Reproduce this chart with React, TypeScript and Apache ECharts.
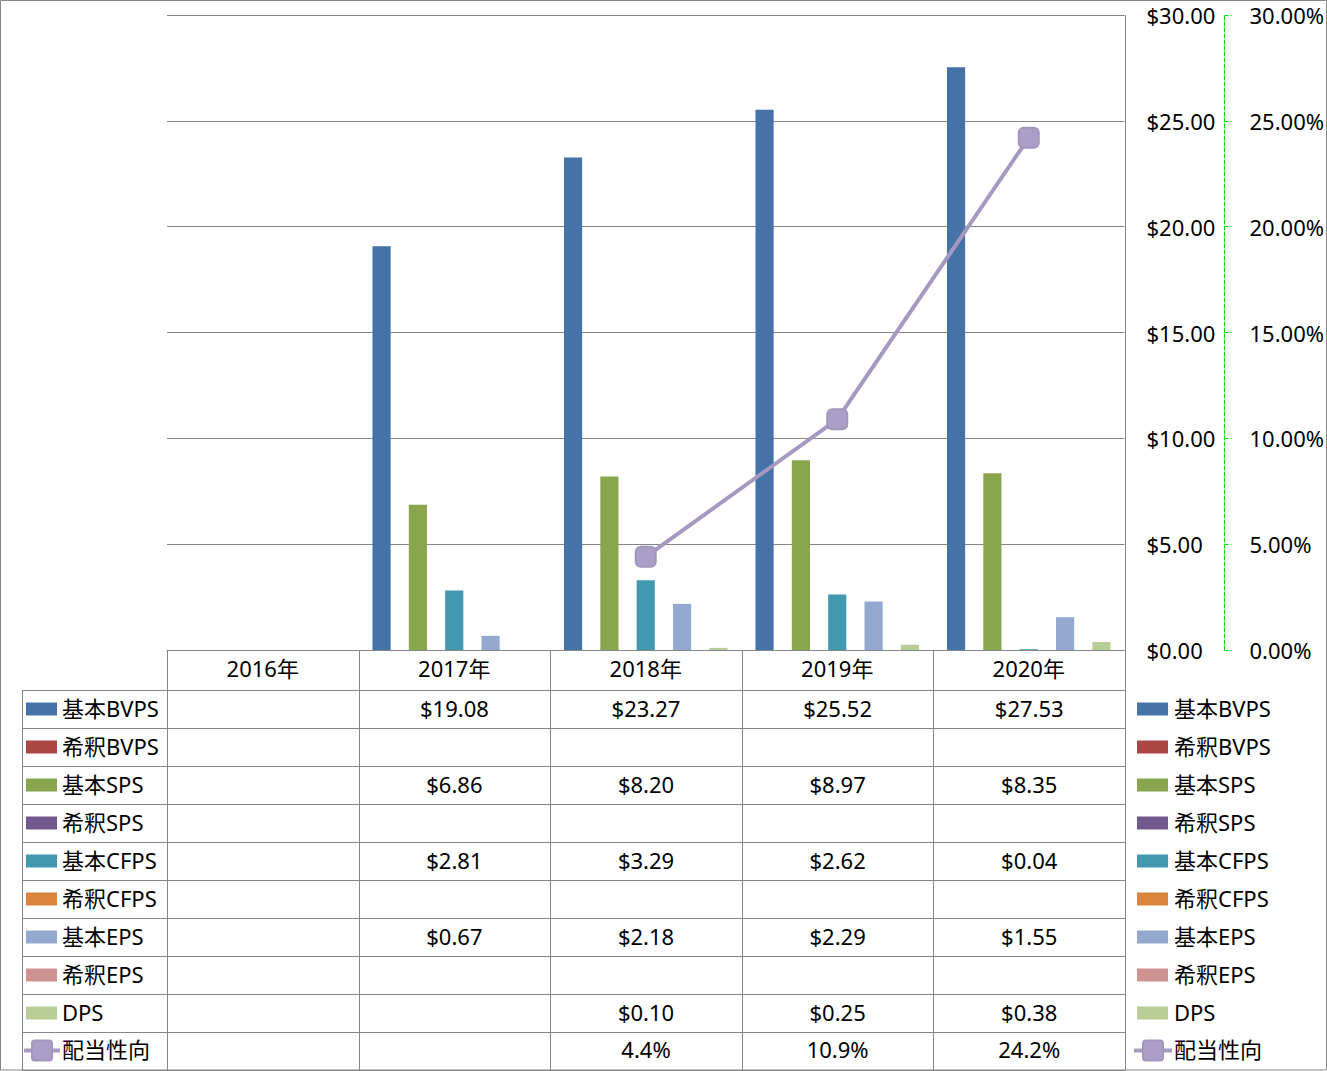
import React, { useEffect, useRef } from "react";
import * as echarts from "echarts";

const years = ["2016年", "2017年", "2018年", "2019年", "2020年"];
const basicBVPS = [null, 19.08, 23.27, 25.52, 27.53];
const dilutedBVPS = [null, null, null, null, null];
const basicSPS = [null, 6.86, 8.2, 8.97, 8.35];
const dilutedSPS = [null, null, null, null, null];
const basicCFPS = [null, 2.81, 3.29, 2.62, 0.04];
const dilutedCFPS = [null, null, null, null, null];
const basicEPS = [null, 0.67, 2.18, 2.29, 1.55];
const dilutedEPS = [null, null, null, null, null];
const dps = [null, null, 0.1, 0.25, 0.38];
const payoutRatio = [null, null, 4.4, 10.9, 24.2];

const barNames = ["基本BVPS", "希釈BVPS", "基本SPS", "希釈SPS", "基本CFPS", "希釈CFPS", "基本EPS", "希釈EPS", "DPS"];
const barData = [basicBVPS, dilutedBVPS, basicSPS, dilutedSPS, basicCFPS, dilutedCFPS, basicEPS, dilutedEPS, dps];
const barColors = ["#4572A7", "#AA4643", "#89A54E", "#71588F", "#4198AF", "#DB843D", "#93A9CF", "#D19392", "#B9CD96"];
const lineName = "配当性向";
const lineColor = "#A99BBD";

const FONT = '"Noto Sans", "Noto Sans CJK JP", sans-serif';
const FS = 22;
const GRID_COLOR = "#868686";

const W = 1327;
const H = 1071;
const GL = 167;
const GT = 15;
const GW = 958;
const GH = 635;
const TABLE_LEFT = 22;
const HEADER_BOTTOM = 690;
const ROW_H = 38;

export default function App() {
  const ref = useRef<HTMLDivElement>(null);
  useEffect(() => {
    if (!ref.current) return;
    const chart = echarts.init(ref.current, null, { renderer: "svg" });
    const gRight = GL + GW;
    const gBottom = GT + GH;
    const colW = GW / years.length;
    const graphics: any[] = [];
    const hline = (x1: number, x2: number, y: number) =>
      graphics.push({ type: "line", silent: true, shape: { x1, y1: y + 0.5, x2, y2: y + 0.5 }, style: { stroke: GRID_COLOR, lineWidth: 1 } });
    const vline = (x: number, y1: number, y2: number) =>
      graphics.push({ type: "line", silent: true, shape: { x1: x + 0.5, y1, x2: x + 0.5, y2 }, style: { stroke: GRID_COLOR, lineWidth: 1 } });
    const txt = (text: string, x: number, y: number, align: string) =>
      graphics.push({ type: "text", silent: true, x, y: y - 1.5, style: { text, fontSize: FS, fontFamily: FONT, fill: "#000", align, verticalAlign: "middle" } });

    // outer border
    graphics.push({ type: "rect", silent: true, shape: { x: 0.5, y: 0.5, width: W - 1, height: H - 1.5 }, style: { fill: "none", stroke: GRID_COLOR, lineWidth: 1 } });

    const nRows = barNames.length + 1;
    const tableBottom = HEADER_BOTTOM + nRows * ROW_H;
    for (let r = 0; r <= nRows; r++) hline(TABLE_LEFT, gRight, HEADER_BOTTOM + r * ROW_H);
    vline(TABLE_LEFT, HEADER_BOTTOM, tableBottom);
    for (let c = 0; c < years.length; c++) vline(Math.round(GL + c * colW), gBottom, tableBottom);
    vline(gRight, GT, tableBottom);

    const fmtDollar = (v: number | null) => (v == null ? "" : "$" + v.toFixed(2));
    const fmtPct = (v: number | null) => (v == null ? "" : v.toFixed(1) + "%");

    const rowCenter = (r: number) => HEADER_BOTTOM + r * ROW_H + ROW_H / 2 + 0.5;

    barNames.forEach((name, i) => {
      const cy = rowCenter(i);
      graphics.push({ type: "rect", silent: true, shape: { x: 26, y: cy - 7, width: 31, height: 13 }, style: { fill: barColors[i] } });
      txt(name, 62, cy, "left");
      graphics.push({ type: "rect", silent: true, shape: { x: 1137, y: cy - 7, width: 31, height: 13 }, style: { fill: barColors[i] } });
      txt(name, 1174, cy, "left");
      barData[i].forEach((v, c) => {
        if (v != null) txt(fmtDollar(v), GL + (c + 0.5) * colW, cy, "center");
      });
    });
    {
      const cy = rowCenter(barNames.length) - 1;
      const legendLine = (x1: number, x2: number) => {
        graphics.push({ type: "line", silent: true, shape: { x1, y1: cy, x2, y2: cy }, style: { stroke: lineColor, lineWidth: 4 } });
        const mx = (x1 + x2) / 2;
        graphics.push({ type: "rect", silent: true, shape: { x: mx - 10, y: cy - 10, width: 20, height: 20, r: 3 }, style: { fill: "#AC9FC7", stroke: "#A495BD", lineWidth: 2 } });
      };
      legendLine(24, 60);
      txt(lineName, 62, cy, "left");
      legendLine(1134, 1172);
      txt(lineName, 1174, cy, "left");
      payoutRatio.forEach((v, c) => {
        if (v != null) txt(fmtPct(v), GL + (c + 0.5) * colW, cy, "center");
      });
    }

    const series: any[] = barNames.map((name, i) => ({
      name,
      type: "bar",
      yAxisIndex: 0,
      data: barData[i],
      itemStyle: { color: barColors[i] },
      barGap: "0%",
      barCategoryGap: "14.6%",
    }));
    series.push({
      name: lineName,
      type: "line",
      yAxisIndex: 1,
      data: payoutRatio,
      symbol: "roundRect",
      symbolSize: 20,
      lineStyle: { color: "#A599C1", width: 4 },
      itemStyle: { color: "#AC9FC7", borderColor: "#A495BD", borderWidth: 2 },
      z: 5,
    });

    chart.setOption({
      animation: false,
      backgroundColor: "#fff",
      textStyle: { fontFamily: FONT },
      grid: { left: GL, top: GT, width: GW, height: GH, containLabel: false },
      xAxis: {
        type: "category",
        data: years,
        axisLine: { lineStyle: { color: GRID_COLOR, width: 1 } },
        axisTick: { show: false },
        axisLabel: { fontSize: FS, fontFamily: FONT, color: "#000", margin: 7 },
      },
      yAxis: [
        {
          type: "value",
          position: "right",
          min: 0,
          max: 30,
          interval: 5,
          axisLine: { show: false },
          axisTick: { show: false },
          splitLine: { lineStyle: { color: GRID_COLOR, width: 1 } },
          axisLabel: { fontSize: FS, fontFamily: FONT, color: "#000", margin: 22, formatter: (v: number) => "$" + v.toFixed(2) },
        },
        {
          type: "value",
          position: "right",
          offset: 100,
          min: 0,
          max: 30,
          interval: 5,
          axisLine: { show: true, lineStyle: { color: "#00DD00", type: [4, 2], width: 1 } },
          axisTick: { show: true, length: 7, lineStyle: { color: "#00DD00", type: [4, 2] } },
          splitLine: { show: false },
          axisLabel: { fontSize: FS, fontFamily: FONT, color: "#000", margin: 25, formatter: (v: number) => v.toFixed(2) + "%" },
        },
      ],
      series,
      graphic: graphics,
    });
    return () => chart.dispose();
  }, []);
  return <div ref={ref} style={{ position: "fixed", left: 0, top: 0, width: W, height: H }} />;
}
